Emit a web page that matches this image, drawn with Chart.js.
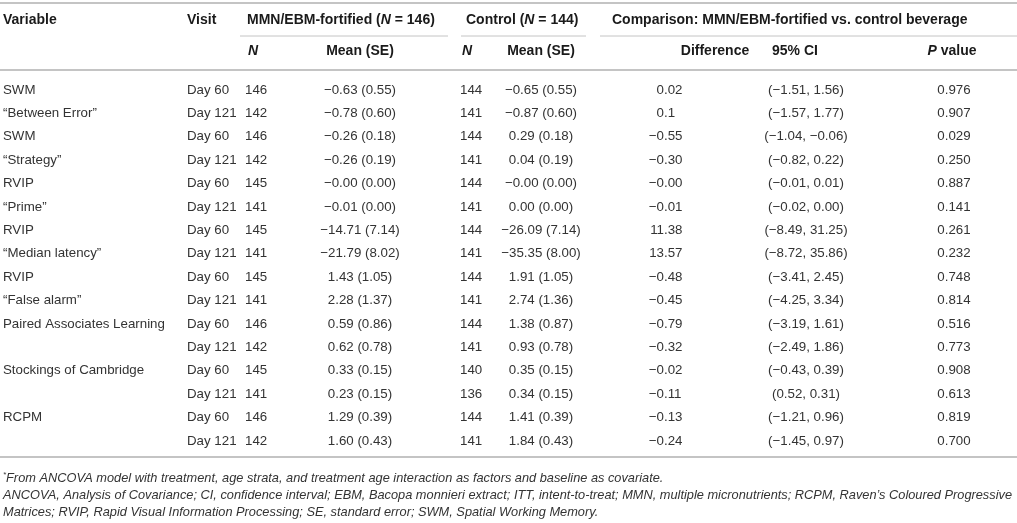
<!DOCTYPE html>
<html lang="en">
<head>
    <script src="https://cdn.jsdelivr.net/npm/chart.js@4/dist/chart.umd.min.js"></script>
    <style>
        body { margin: 0; background: #fff; }
        #canvas-container {
            position: relative;
            width: 1017px;
            height: 523px;
        }
    </style>
</head>
<body>

<div id="canvas-container">
    <canvas id="table-chart"></canvas>
</div>

<script>
    // table contents, one array per column
    const variables = ["SWM", "\u201cBetween Error\u201d", "SWM", "\u201cStrategy\u201d", "RVIP", "\u201cPrime\u201d",
        "RVIP", "\u201cMedian latency\u201d", "RVIP", "\u201cFalse alarm\u201d", "Paired Associates Learning", "",
        "Stockings of Cambridge", "", "RCPM", ""];
    const visits = ["Day 60", "Day 121", "Day 60", "Day 121", "Day 60", "Day 121", "Day 60", "Day 121",
        "Day 60", "Day 121", "Day 60", "Day 121", "Day 60", "Day 121", "Day 60", "Day 121"];
    const mmnN = [146, 142, 146, 142, 145, 141, 145, 141, 145, 141, 146, 142, 145, 141, 146, 142];
    const mmnMean = ["\u22120.63 (0.55)", "\u22120.78 (0.60)", "\u22120.26 (0.18)", "\u22120.26 (0.19)",
        "\u22120.00 (0.00)", "\u22120.01 (0.00)", "\u221214.71 (7.14)", "\u221221.79 (8.02)", "1.43 (1.05)",
        "2.28 (1.37)", "0.59 (0.86)", "0.62 (0.78)", "0.33 (0.15)", "0.23 (0.15)", "1.29 (0.39)", "1.60 (0.43)"];
    const controlN = [144, 141, 144, 141, 144, 141, 144, 141, 144, 141, 144, 141, 140, 136, 144, 141];
    const controlMean = ["\u22120.65 (0.55)", "\u22120.87 (0.60)", "0.29 (0.18)", "0.04 (0.19)",
        "\u22120.00 (0.00)", "0.00 (0.00)", "\u221226.09 (7.14)", "\u221235.35 (8.00)", "1.91 (1.05)",
        "2.74 (1.36)", "1.38 (0.87)", "0.93 (0.78)", "0.35 (0.15)", "0.34 (0.15)", "1.41 (0.39)", "1.84 (0.43)"];
    const differences = ["0.02", "0.1", "\u22120.55", "\u22120.30", "\u22120.00", "\u22120.01", "11.38", "13.57",
        "\u22120.48", "\u22120.45", "\u22120.79", "\u22120.32", "\u22120.02", "\u22120.11", "\u22120.13", "\u22120.24"];
    const confIntervals = ["(\u22121.51, 1.56)", "(\u22121.57, 1.77)", "(\u22121.04, \u22120.06)", "(\u22120.82, 0.22)",
        "(\u22120.01, 0.01)", "(\u22120.02, 0.00)", "(\u22128.49, 31.25)", "(\u22128.72, 35.86)", "(\u22123.41, 2.45)",
        "(\u22124.25, 3.34)", "(\u22123.19, 1.61)", "(\u22122.49, 1.86)", "(\u22120.43, 0.39)", "(0.52, 0.31)",
        "(\u22121.21, 0.96)", "(\u22121.45, 0.97)"];
    const pValues = ["0.976", "0.907", "0.029", "0.250", "0.887", "0.141", "0.261", "0.232",
        "0.748", "0.814", "0.516", "0.773", "0.908", "0.613", "0.819", "0.700"];

    const footnotes = [
        "From ANCOVA model with treatment, age strata, and treatment age interaction as factors and baseline as covariate.",
        "ANCOVA, Analysis of Covariance; CI, confidence interval; EBM, Bacopa monnieri extract; ITT, intent-to-treat; MMN, multiple micronutrients; RCPM, Raven\u2019s Coloured Progressive",
        "Matrices; RVIP, Rapid Visual Information Processing; SE, standard error; SWM, Spatial Working Memory."
    ];

    // layout (pixels): first body row and row step, used to set the y scale in row units
    const firstRow = 90, rowStep = 23.4, H = 523, W = 1017;
    const rowAt = px => (px - firstRow) / rowStep;

    const bodyFont = "13.3px 'Liberation Sans', Arial, sans-serif";
    const boldFont = "bold 14px 'Liberation Sans', Arial, sans-serif";
    const boldItalic = "italic bold 14px 'Liberation Sans', Arial, sans-serif";
    const noteFont = "italic 13px 'Liberation Sans', Arial, sans-serif";
    const starFont = "italic 8px 'Liberation Sans', Arial, sans-serif";
    const textColor = "#333";
    const headColor = "#1a1a1a";
    const ruleColor = "#c4c4c4";

    // column: cells, anchor x, alignment
    const columns = [
        { cells: variables, x: 3, align: "left" },
        { cells: visits, x: 187, align: "left" },
        { cells: mmnN.map(String), x: 245, align: "left" },
        { cells: mmnMean, x: 360, align: "center" },
        { cells: controlN.map(String), x: 460, align: "left" },
        { cells: controlMean, x: 541, align: "center" },
        { cells: differences, x: 664, align: "decimal" },
        { cells: confIntervals, x: 806, align: "center" },
        { cells: pValues, x: 954, align: "center" }
    ];

    // header cells, each made of styled runs
    const headerRow1 = rowAt(20), headerRow2 = rowAt(51);
    const headers = [
        { y: headerRow1, x: 3, align: "left", runs: [["Variable", boldFont]] },
        { y: headerRow1, x: 187, align: "left", runs: [["Visit", boldFont]] },
        { y: headerRow1, x: 247, align: "left", runs: [["MMN/EBM-fortified (", boldFont], ["N", boldItalic], [" = 146)", boldFont]] },
        { y: headerRow1, x: 466, align: "left", runs: [["Control (", boldFont], ["N", boldItalic], [" = 144)", boldFont]] },
        { y: headerRow1, x: 612, align: "left", runs: [["Comparison: MMN/EBM-fortified vs. control beverage", boldFont]] },
        { y: headerRow2, x: 248, align: "left", runs: [["N", boldItalic]] },
        { y: headerRow2, x: 360, align: "center", runs: [["Mean (SE)", boldFont]] },
        { y: headerRow2, x: 462, align: "left", runs: [["N", boldItalic]] },
        { y: headerRow2, x: 541, align: "center", runs: [["Mean (SE)", boldFont]] },
        { y: headerRow2, x: 715, align: "center", runs: [["Difference", boldFont]] },
        { y: headerRow2, x: 795, align: "center", runs: [["95% CI", boldFont]] },
        { y: headerRow2, x: 952, align: "center", runs: [["P", boldItalic], [" value", boldFont]] }
    ];

    const rules = [
        { y: rowAt(3), x0: 0, x1: W, w: 1.8 },
        { y: rowAt(36), x0: 240, x1: 448, w: 1 },
        { y: rowAt(36), x0: 461, x1: 586, w: 1 },
        { y: rowAt(36), x0: 600, x1: W, w: 1 },
        { y: rowAt(70), x0: 0, x1: W, w: 1.8 },
        { y: rowAt(457), x0: 0, x1: W, w: 1.8 }
    ];

    // footnote lines; the long second line sets the horizontal squeeze for all of them
    const notes = [
        { y: rowAt(478), star: true },
        { y: rowAt(495.5) },
        { y: rowAt(512.5) }
    ];
    const noteWidth = 1009;

    function drawRuns(ctx, runs, x, y, align) {
        let total = 0;
        runs.forEach(r => { ctx.font = r[1]; total += ctx.measureText(r[0]).width; });
        let cx = align === "center" ? x - total / 2 : x;
        runs.forEach(r => {
            ctx.font = r[1];
            ctx.fillText(r[0], cx, y);
            cx += ctx.measureText(r[0]).width;
        });
    }

    const tablePlugin = {
        id: "tableText",
        afterDatasetsDraw(chart) {
            const ctx = chart.ctx;
            const xs = chart.scales.x, ys = chart.scales.y;
            ctx.save();
            ctx.textBaseline = "middle";
            ctx.textAlign = "left";

            // rules
            ctx.strokeStyle = ruleColor;
            rules.forEach(r => {
                const py = ys.getPixelForValue(r.y);
                ctx.lineWidth = r.w;
                ctx.beginPath();
                ctx.moveTo(xs.getPixelForValue(r.x0), py);
                ctx.lineTo(xs.getPixelForValue(r.x1), py);
                ctx.stroke();
            });

            // header
            ctx.fillStyle = headColor;
            headers.forEach(h => {
                drawRuns(ctx, h.runs, xs.getPixelForValue(h.x), ys.getPixelForValue(h.y), h.align);
            });

            // body cells from the dataset points
            ctx.fillStyle = textColor;
            ctx.font = bodyFont;
            chart.data.datasets.forEach((ds, i) => {
                const meta = chart.getDatasetMeta(i);
                meta.data.forEach((pt, j) => {
                    const txt = ds.cells[j];
                    if (!txt) return;
                    let px = pt.x;
                    if (ds.align === "center") {
                        px -= ctx.measureText(txt).width / 2;
                    } else if (ds.align === "decimal") {
                        px -= ctx.measureText(txt.split(".")[0]).width;
                    }
                    ctx.fillText(txt, px, pt.y);
                });
            });

            // footnotes
            ctx.font = noteFont;
            const squeeze = noteWidth / ctx.measureText(footnotes[1]).width;
            notes.forEach((n, k) => {
                const py = ys.getPixelForValue(n.y);
                const px = xs.getPixelForValue(3);
                ctx.save();
                ctx.translate(px, py);
                ctx.scale(squeeze, 1);
                let off = 0;
                if (n.star) {
                    ctx.font = starFont;
                    ctx.fillText("*", 0, -3);
                    off = ctx.measureText("*").width;
                }
                ctx.font = noteFont;
                ctx.fillText(footnotes[k], off, 0);
                ctx.restore();
            });
            ctx.restore();
        }
    };

    function draw() {
        const ctx = document.getElementById("table-chart").getContext("2d");
        new Chart(ctx, {
            type: "scatter",
            data: {
                datasets: columns.map((c, i) => ({
                    label: "col" + i,
                    data: c.cells.map((v, j) => ({ x: c.x, y: j })),
                    cells: c.cells,
                    align: c.align,
                    pointRadius: 0,
                    pointHoverRadius: 0
                }))
            },
            options: {
                responsive: true,
                maintainAspectRatio: false,
                animation: false,
                events: [],
                layout: { padding: 0 },
                plugins: {
                    legend: { display: false },
                    tooltip: { enabled: false }
                },
                scales: {
                    x: { type: "linear", display: false, min: 0, max: W },
                    y: { type: "linear", display: false, reverse: true, min: rowAt(0), max: rowAt(H) }
                }
            },
            plugins: [tablePlugin]
        });
    }

    draw();
</script>

</body>
</html>
